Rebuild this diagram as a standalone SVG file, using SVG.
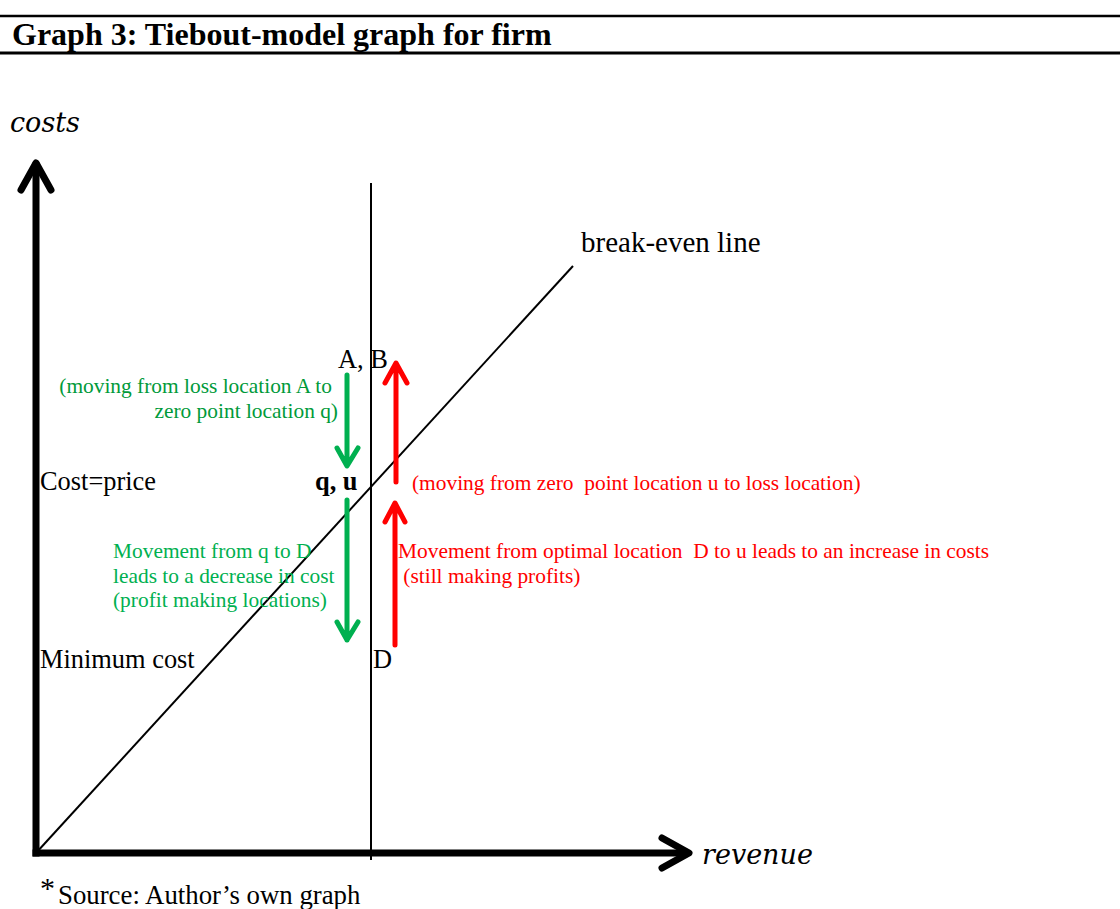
<svg xmlns="http://www.w3.org/2000/svg" width="1120" height="909" viewBox="0 0 1120 909">
<style>
.serif{font-family:"Liberation Serif","Times New Roman",serif;}
.lbl{font-family:"Liberation Serif","Times New Roman",serif;font-size:26.4px;fill:#000;}
.gt{font-family:"Liberation Serif","Times New Roman",serif;font-size:21.4px;}
.rt{font-family:"Liberation Serif","Times New Roman",serif;font-size:21.4px;fill:#ff0000;}
.math{font-family:"DejaVu Serif",serif;font-style:italic;font-size:27px;fill:#000;}
.stem{stroke:#000;stroke-width:7;fill:none;stroke-linecap:square;}
.head{stroke:#000;stroke-width:7;fill:none;stroke-linecap:round;stroke-linejoin:round;}
.thin{stroke:#000;stroke-width:2;fill:none;}
.garr{stroke:#00b050;stroke-width:5;fill:none;stroke-linecap:round;stroke-linejoin:round;}
.rarr{stroke:#ff0000;stroke-width:5;fill:none;stroke-linecap:round;stroke-linejoin:round;}
</style>
<rect width="1120" height="909" fill="#fff"/>
<g id="title">
<line x1="0" y1="16" x2="1120" y2="16" stroke="#000" stroke-width="2.5"/>
<line x1="0" y1="53" x2="1120" y2="53" stroke="#000" stroke-width="3"/>
<text class="serif" x="12" y="45" font-size="32" font-weight="bold">Graph 3: Tiebout-model graph for firm</text>
</g>
<g id="axes">
<path class="stem" d="M36,853 V166"/>
<path class="head" d="M21,190 L36,163 L51,190"/>
<path class="stem" d="M36,853 H685"/>
<path class="head" d="M662,838 L689,853 L662,868"/>
<text class="math" x="10" y="132">costs</text>
<text class="math" x="702" y="864">revenue</text>
</g>
<g id="connectors">
<line class="thin" x1="371" y1="183" x2="371" y2="860"/>
<line class="thin" x1="36" y1="853" x2="573" y2="266"/>
<path class="garr" d="M347,375 V465 M337,448 L347,466 L358,448" stroke-linecap="butt"/>
<path class="garr" d="M347,500 V640 M337,622 L347,640 L358,622"/>
<path class="rarr" d="M396,482 V365 M385,383 L396,363 L407,383"/>
<path class="rarr" d="M395,645 V504 M385,522 L395,503 L405,522"/>
</g>
<g id="break-even-label"><text class="serif" x="581" y="252" font-size="29">break-even line</text></g>
<g id="point-AB"><text class="lbl" x="338" y="368">A, B</text></g>
<g id="point-qu"><text class="lbl" x="315" y="490" font-weight="bold">q, u</text></g>
<g id="point-D"><text class="lbl" x="373" y="668">D</text></g>
<g id="cost-price"><text class="lbl" x="40" y="490">Cost=price</text></g>
<g id="minimum-cost"><text class="lbl" x="40" y="668">Minimum cost</text></g>
<g id="note-A-to-q">
<text class="gt" fill="#009a3a" text-anchor="end"><tspan x="332" y="393">(moving from loss location A to</tspan><tspan x="338" y="418">zero point location q)</tspan></text>
</g>
<g id="note-q-to-D">
<text class="gt" fill="#00b050"><tspan x="113" y="558">Movement from q to D</tspan><tspan x="113" y="583">leads to a decrease in cost</tspan><tspan x="113" y="607">(profit making locations)</tspan></text>
</g>
<g id="note-u-to-loss"><text class="rt" x="412" y="490" xml:space="preserve">(moving from zero  point location u to loss location)</text></g>
<g id="note-D-to-u">
<text class="rt" xml:space="preserve"><tspan x="398" y="558">Movement from optimal location  D to u leads to an increase in costs</tspan><tspan x="398" y="583"> (still making profits)</tspan></text>
</g>
<g id="source">
<text class="serif" x="40" y="898" font-size="30">*</text>
<text class="serif" x="58" y="904" font-size="26.8">Source: Author’s own graph</text>
</g>
</svg>
